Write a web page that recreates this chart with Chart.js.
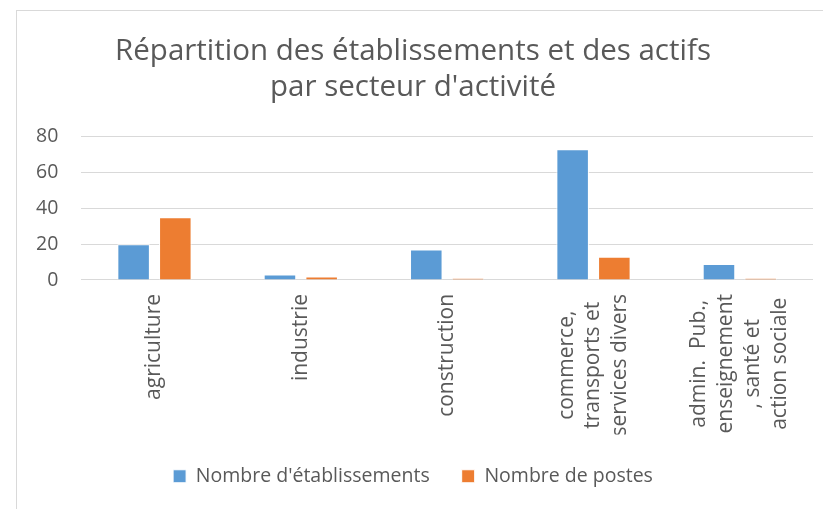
<!DOCTYPE html>
<html>
<head>
<meta charset="utf-8">
<script src="https://cdn.jsdelivr.net/npm/chart.js@4.4.0/dist/chart.umd.min.js"></script>
<style>
    html, body { margin: 0; padding: 0; background: #fff; }
    #wrap { position: relative; width: 823px; height: 509px; overflow: hidden; }
    #frame { position: absolute; left: 16px; top: 10px; width: 820px; height: 520px; border: 1px solid #d9d9d9; box-sizing: border-box; }
    #chartBox { position: absolute; left: 0; top: 0; width: 823px; height: 509px; }
</style>
</head>
<body>
<div id="wrap">
    <div id="frame"></div>
    <div id="chartBox"><canvas id="sectorChart"></canvas></div>
</div>
<script>
// Données
const categories = [
    ['agriculture'],
    ['industrie'],
    ['construction'],
    ['commerce,', 'transports et', 'services divers'],
    ['admin.  Pub.,', 'enseignement', ', santé et', 'action sociale']
];
const etablissements = [20, 3, 17, 73, 9];
const postes = [35, 2, 1, 13, 1];
const yTicks = [0, 20, 40, 60, 80];

const seriesNames = ["Nombre d'établissements", 'Nombre de postes'];
const seriesColors = ['#5b9bd5', '#ed7d31'];

const TEXT_COLOR = '#595959';
const FONT = "'Open Sans', sans-serif";
const X_FONT = { family: FONT, size: 21, lineHeight: 1.28 };

window.addEventListener('load', () => {
    printSectorChart();
});

/**
 * Centre les lignes des libellés pivotés (comme Excel)
 */
const centerRotatedLabels = {
    id: 'centerRotatedLabels',
    beforeDraw(chart){
        const scale = chart.scales.x;
        const items = scale.getLabelItems();
        if (items._centered) return;
        const ctx = chart.ctx;
        const font = Chart.helpers.toFont(X_FONT);
        ctx.save();
        ctx.font = font.string;
        items.forEach(item => {
            const lines = Array.isArray(item.label) ? item.label : [item.label];
            const maxW = Math.max(...lines.map(l => ctx.measureText(l).width));
            item.options.textAlign = 'center';
            item.options.translation[1] += maxW / 2;
            item.options.translation[0] -= (lines.length - 1) * font.lineHeight / 2;
        });
        ctx.restore();
        items._centered = true;
    }
};

/**
 * Crée le graphique en barres par secteur
 */
function printSectorChart(){
    const ctx = document.getElementById('sectorChart').getContext('2d');
    new Chart(ctx, {
        type: 'bar',
        data: {
            labels: categories,
            datasets: [{
                label: seriesNames[0],
                data: etablissements,
                backgroundColor: seriesColors[0],
                borderColor: '#ffffff',
                borderWidth: 1
            }, {
                label: seriesNames[1],
                data: postes,
                backgroundColor: seriesColors[1],
                borderColor: '#ffffff',
                borderWidth: 1
            }]
        },
        plugins: [centerRotatedLabels],
        options: {
            responsive: true,
            maintainAspectRatio: false,
            animation: false,
            categoryPercentage: 0.57,
            barPercentage: 0.78,
            layout: {
                padding: { left: 13, right: 10, top: 34, bottom: 13 }
            },
            plugins: {
                title: {
                    display: true,
                    text: ['Répartition des établissements et des actifs', "par secteur d'activité"],
                    color: TEXT_COLOR,
                    font: { family: FONT, size: 29.5, weight: 'normal' },
                    lineHeight: 1.4,
                    padding: { top: 0, bottom: 32 }
                },
                legend: {
                    position: 'bottom',
                    labels: {
                        color: TEXT_COLOR,
                        font: { family: FONT, size: 19.5 },
                        boxWidth: 13,
                        boxHeight: 13,
                        padding: 32
                    }
                },
                tooltip: { enabled: false }
            },
            scales: {
                x: {
                    grid: { display: false },
                    border: { display: false },
                    afterFit: scale => {
                        scale.paddingLeft = 0;
                        scale.paddingRight = 0;
                        scale.height -= 8;
                    },
                    ticks: {
                        color: TEXT_COLOR,
                        font: X_FONT,
                        minRotation: 90,
                        maxRotation: 90,
                        autoSkip: false,
                        padding: 6
                    }
                },
                y: {
                    min: yTicks[0],
                    max: yTicks[yTicks.length - 1],
                    afterBuildTicks: axis => {
                        axis.ticks = yTicks.map(v => ({ value: v }));
                    },
                    grid: {
                        color: '#d9d9d9',
                        lineWidth: 1,
                        drawTicks: false
                    },
                    border: { display: false },
                    ticks: {
                        color: TEXT_COLOR,
                        font: { family: FONT, size: 19.5 },
                        padding: 23
                    }
                }
            }
        }
    });
}
</script>
</body>
</html>
